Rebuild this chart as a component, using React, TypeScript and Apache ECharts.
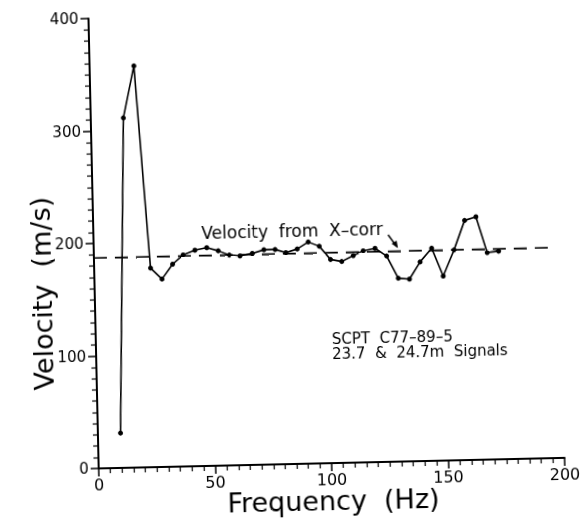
import React, { useEffect, useRef } from "react";
import * as echarts from "echarts";

// Values
const freqHz = [
  9.7, 14.0, 19.0, 24.2, 29.0, 33.7, 38.3, 43.4, 48.5, 53.4, 58.1, 62.7, 68.0,
  73.0, 77.8, 82.4, 87.3, 92.1, 96.8, 101.5, 106.3, 111.3, 115.6, 120.7, 125.6,
  130.4, 135.2, 139.9, 145.0, 149.7, 154.6, 159.4, 164.3, 168.8, 173.7,
];
const velocity = [
  31, 311, 357, 177, 167, 180, 188, 192, 194, 191, 187, 186, 188, 191, 191, 188,
  191, 197, 193, 181, 179, 184, 188, 190, 183, 163, 162, 177, 189, 164, 187, 213,
  216, 184, 185,
];
const xcorrFreq = [0, 198];
const xcorrVelocity = [187, 187];
const xTicks = [0, 50, 100, 150, 200];
const yTicks = [0, 100, 200, 300, 400];

const FONT = '"DejaVu Sans", "Liberation Sans", sans-serif';

export default function App() {
  const ref = useRef<HTMLDivElement>(null);
  useEffect(() => {
    if (!ref.current) return;
    const chart = echarts.init(ref.current, undefined, { renderer: "svg" });
    const mainData = freqHz.map((f, i) => [f, velocity[i]]);
    const xcorrData = xcorrFreq.map((f, i) => [f, xcorrVelocity[i]]);
    const ax = {
      axisLine: { show: true, onZero: false, lineStyle: { color: "#000", width: 2 } },
      axisTick: { show: true, length: 8, lineStyle: { color: "#000", width: 1.5 } },
      minorTick: { show: true, splitNumber: 10, length: 5, lineStyle: { color: "#000", width: 1.2 } },
      splitLine: { show: false },
      minorSplitLine: { show: false },
    };
    chart.setOption({
      animation: false,
      backgroundColor: "#fff",
      grid: { left: 94, right: 23, top: 14, bottom: 55 },
      xAxis: {
        type: "value",
        min: xTicks[0],
        max: xTicks[xTicks.length - 1],
        interval: 50,
        ...ax,
        axisLabel: { color: "#000", fontSize: 16, fontFamily: FONT, margin: 8 },
      },
      yAxis: {
        type: "value",
        min: yTicks[0],
        max: yTicks[yTicks.length - 1],
        interval: 100,
        ...ax,
        axisLabel: { color: "#000", fontSize: 15, fontFamily: FONT, margin: 10 },
      },
      series: [
        {
          type: "line",
          data: mainData,
          symbol: "circle",
          symbolSize: 5,
          itemStyle: { color: "#000" },
          lineStyle: { color: "#000", width: 1.6 },
          z: 3,
        },
        {
          type: "line",
          data: xcorrData,
          symbol: "none",
          lineStyle: { color: "#000", width: 1.6, type: [13, 8] },
          z: 2,
        },
      ],
      graphic: [
        {
          type: "text",
          x: 328,
          y: 501,
          style: {
            text: "Frequency  (Hz)",
            font: `27px ${FONT}`,
            fill: "#000",
            textAlign: "center",
            textVerticalAlign: "middle",
          },
        },
        {
          type: "text",
          x: 41,
          y: 288,
          rotation: Math.PI / 2,
          style: {
            text: "Velocity  (m/s)",
            font: `27px ${FONT}`,
            fill: "#000",
            textAlign: "center",
            textVerticalAlign: "middle",
          },
        },
        {
          type: "text",
          x: 202,
          y: 231,
          style: {
            text: "Velocity  from  X\u2013corr",
            font: `17px ${FONT}`,
            fill: "#000",
            textAlign: "left",
            textVerticalAlign: "middle",
          },
        },
        {
          type: "line",
          shape: { x1: 388.6, y1: 237, x2: 397, y2: 249 },
          style: { stroke: "#000", lineWidth: 1.4 },
        },
        {
          type: "polygon",
          shape: { points: [[398.2, 250.4], [391.9, 246.1], [397.0, 242.9]] },
          style: { fill: "#000" },
        },
        {
          type: "text",
          x: 330,
          y: 340,
          style: {
            text: "SCPT  C77\u201389\u20135",
            font: `15px ${FONT}`,
            fill: "#000",
            textAlign: "left",
            textVerticalAlign: "middle",
          },
        },
        {
          type: "text",
          x: 330,
          y: 355,
          style: {
            text: "23.7  &  24.7m  Signals",
            font: `15px ${FONT}`,
            fill: "#000",
            textAlign: "left",
            textVerticalAlign: "middle",
          },
        },
      ],
    });
    return () => chart.dispose();
  }, []);
  return (
    <div
      ref={ref}
      style={{
        position: "fixed",
        left: 0,
        top: 0,
        width: 583,
        height: 519,
        transform: "rotate(-1.3deg)",
        background: "#fff",
      }}
    />
  );
}
